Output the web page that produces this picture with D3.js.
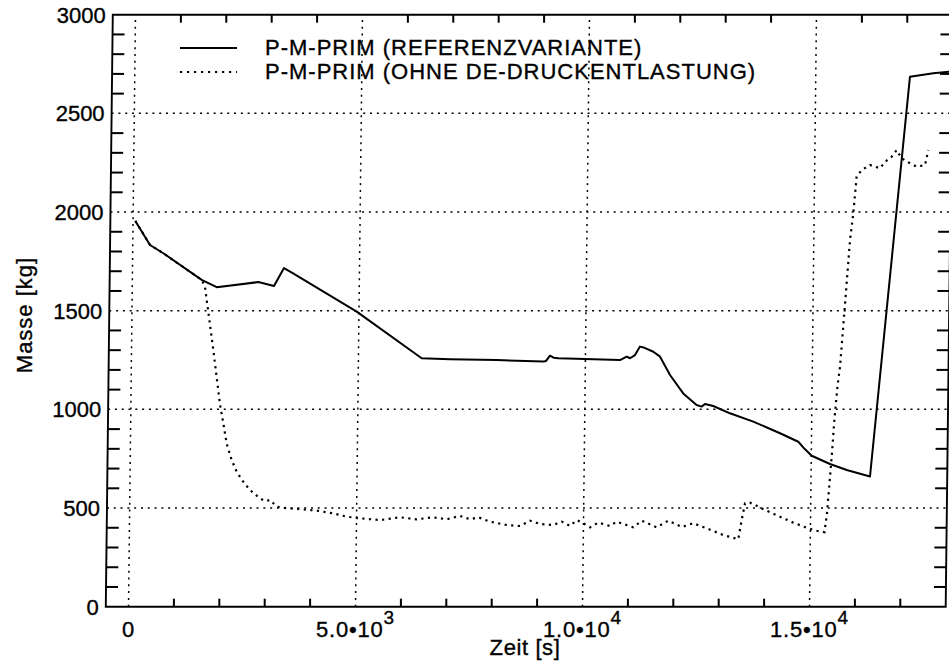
<!DOCTYPE html>
<html><head><meta charset="utf-8">
<script src="https://cdn.jsdelivr.net/npm/d3@7"></script>
<style>
body{margin:0;background:#fff}
svg{display:block}
text{font-family:"Liberation Sans",Arial,Helvetica,sans-serif;fill:#000;stroke:#000;stroke-width:0.35px}
</style>
</head><body>
<svg id="c" width="949" height="669"></svg>
<script>
// ---------- data ----------
const refTime = [50,380,675,1527,1860,2775,3121,3337,3530,4950,6393,7015,8046,9073,9130,9218,9300,9403,10762,10908,10982,11091,11198,11300,11494,11643,11868,12163,12460,12572,12645,12828,13198,13713,14306,14711,14850,15009,15414,15784,16299,17075,17588,17980];
const refMass = [1955,1833,1791,1656,1619,1645,1625,1716,1690,1495,1259,1254,1250,1242,1245,1272,1262,1259,1250,1267,1259,1275,1318,1312,1292,1267,1174,1081,1022,1014,1027,1017,980,938,879,836,800,765,723,693,660,2686,2703,2712];

const ohneTime = [50,380,675,1527,1601,1801,1963,2041,2121,2235,2348,2496,2646,2868,2990,3089,3239,3458,3752,4120,4487,4783,5077,5517,5956,6326,6691,6986,7205,7278,7500,7683,7941,8310,8603,8822,9043,9335,9519,9703,9850,9996,10145,10326,10584,10731,11098,11282,11614,11868,12170,12419,12716,13084,13414,13484,13553,13663,13846,13958,14326,14621,14953,15138,15310,15360,15400,15450,15500,15560,15610,15703,15797,15863,15927,16035,16218,16439,16553,16693,16802,16914,17099,17247,17430,17498];
const ohneMass = [1955,1833,1791,1656,1622,1301,1025,929,825,743,684,633,591,549,535,541,507,499,494,487,473,456,448,439,453,443,453,443,456,460,443,453,431,414,409,436,419,414,431,409,439,423,402,426,409,431,402,436,402,436,404,423,397,363,342,439,524,527,507,494,456,426,397,385,378,470,600,760,950,1120,1216,1530,1858,1994,2179,2213,2238,2222,2255,2280,2314,2272,2247,2230,2238,2314];

const yTickValues = [0,500,1000,1500,2000,2500,3000];
const yGridValues = [500,1000,1500,2000,2500];
const yMinorValues = [100,200,300,400,600,700,800,900,1100,1200,1300,1400,1600,1700,1800,1900,2100,2200,2300,2400,2600,2700,2800,2900];
const xGridValues = [0,5000,10000,15000];
const xMinorValues = [1000,2000,3000,4000,6000,7000,8000,9000,11000,12000,13000,14000,16000,17000];
const xTickMantissa = ["0","5.0\u202210","1.0\u202210","1.5\u202210"];
const xTickExponent = ["","3","4","4"];
const legendLabels = ["P-M-PRIM (REFERENZVARIANTE)","P-M-PRIM (OHNE DE-DRUCKENTLASTUNG)"];
const xTitle = "Zeit [s]";
const yTitle = "Masse [kg]";

// ---------- layout ----------
const svg = d3.select("#c");
const pL = 105.8, pR = 945.7, pT = 14.7, pB = 606.7;
const x = d3.scaleLinear().domain([-500, 18000]).range([pL, pR]);
const y = d3.scaleLinear().domain([0, 3000]).range([pB, pT]);
// the scanned original is slightly sheared: higher points sit further right
const K = 0.0118;
const sh = py => (pB - py) * K;
const S = sh(pT);

svg.append("rect").attr("width",949).attr("height",669).attr("fill","#fff");

const framePath = d3.path();
framePath.moveTo(pL, pB); framePath.lineTo(pR, pB); framePath.lineTo(pR + S, pT);
framePath.lineTo(pL + S, pT); framePath.closePath();

svg.append("defs").append("clipPath").attr("id","clip")
  .append("path").attr("d", framePath.toString());

// grid
const grid = svg.append("g").attr("stroke","#000").attr("stroke-width",1.5).attr("stroke-dasharray","2,4.8");
grid.selectAll("line.v").data(xGridValues).join("line").attr("class","v")
  .attr("x1",d=>x(d)).attr("x2",d=>x(d)+S).attr("y1",pB).attr("y2",pT);
grid.selectAll("line.h").data(yGridValues).join("line").attr("class","h")
  .attr("x1",d=>pL+sh(y(d))).attr("x2",d=>pR+sh(y(d))).attr("y1",d=>y(d)).attr("y2",d=>y(d));

// frame
svg.append("path").attr("d", framePath.toString())
  .attr("fill","none").attr("stroke","#000").attr("stroke-width",1.9);

// y tick labels
svg.append("g").selectAll("text").data(yTickValues).join("text")
  .attr("x",d=>pL-7+sh(y(d))).attr("y",d=>y(d)).attr("dy","0.36em")
  .attr("text-anchor","end").attr("font-size",22).text(d=>d3.format("d")(d));

// x tick labels with superscript exponents
const xl = svg.append("g").selectAll("text").data(xGridValues).join("text")
  .attr("x",d=>x(d)).attr("y",637).attr("text-anchor","middle")
  .attr("font-size",22).attr("letter-spacing",0.8);
xl.append("tspan").text((d,i)=>xTickMantissa[i]);
xl.append("tspan").attr("dy",-13).attr("font-size",19).text((d,i)=>xTickExponent[i]);

// series
const lineGen = d3.line().x(d=>x(d[0])+sh(y(d[1]))).y(d=>y(d[1]));
const ref = refTime.map((t,i)=>[t,refMass[i]]);
const ohne = ohneTime.map((t,i)=>[t,ohneMass[i]]);
const series = svg.append("g").attr("clip-path","url(#clip)");
series.append("path").datum(ohne).attr("d",lineGen).attr("fill","none")
  .attr("stroke","#000").attr("stroke-width",2.2).attr("stroke-dasharray","2.2,4.4");
series.append("path").datum(ref).attr("d",lineGen).attr("fill","none")
  .attr("stroke","#000").attr("stroke-width",2).attr("stroke-linejoin","round");

// legend
const lg = svg.append("g");
lg.append("line").attr("x1",180).attr("x2",237).attr("y1",48).attr("y2",48)
  .attr("stroke","#000").attr("stroke-width",2);
lg.append("line").attr("x1",180).attr("x2",237).attr("y1",72).attr("y2",72)
  .attr("stroke","#000").attr("stroke-width",2.2).attr("stroke-dasharray","2.2,4.8");
lg.selectAll("text").data(legendLabels).join("text")
  .attr("x",265).attr("y",(d,i)=>55+i*23.5).attr("font-size",22).attr("letter-spacing",1)
  .text(d=>d);

// axis titles
svg.append("text").attr("x",525).attr("y",655).attr("text-anchor","middle")
  .attr("font-size",22).attr("letter-spacing",0.6).text(xTitle);
svg.append("text").attr("transform","translate(32,315) rotate(-90)").attr("text-anchor","middle")
  .attr("font-size",22).attr("letter-spacing",1).text(yTitle);

// minor ticks (inward), drawn last as filled bars
const tk = svg.append("g").attr("fill","#000");
tk.selectAll("rect.yl").data(yMinorValues).join("rect").attr("class","yl")
  .attr("x",d=>pL+sh(y(d))).attr("y",d=>y(d)-1).attr("width",12).attr("height",2);
tk.selectAll("rect.yr").data(yMinorValues).join("rect").attr("class","yr")
  .attr("x",d=>pR-12+sh(y(d))).attr("y",d=>y(d)-1).attr("width",12).attr("height",2);
tk.selectAll("rect.xb").data(xMinorValues).join("rect").attr("class","xb")
  .attr("x",d=>x(d)-1).attr("y",pB-8).attr("width",2).attr("height",8);
tk.selectAll("rect.xt").data(xMinorValues).join("rect").attr("class","xt")
  .attr("x",d=>x(d)+S-1).attr("y",pT).attr("width",2).attr("height",8);
</script>
</body></html>
